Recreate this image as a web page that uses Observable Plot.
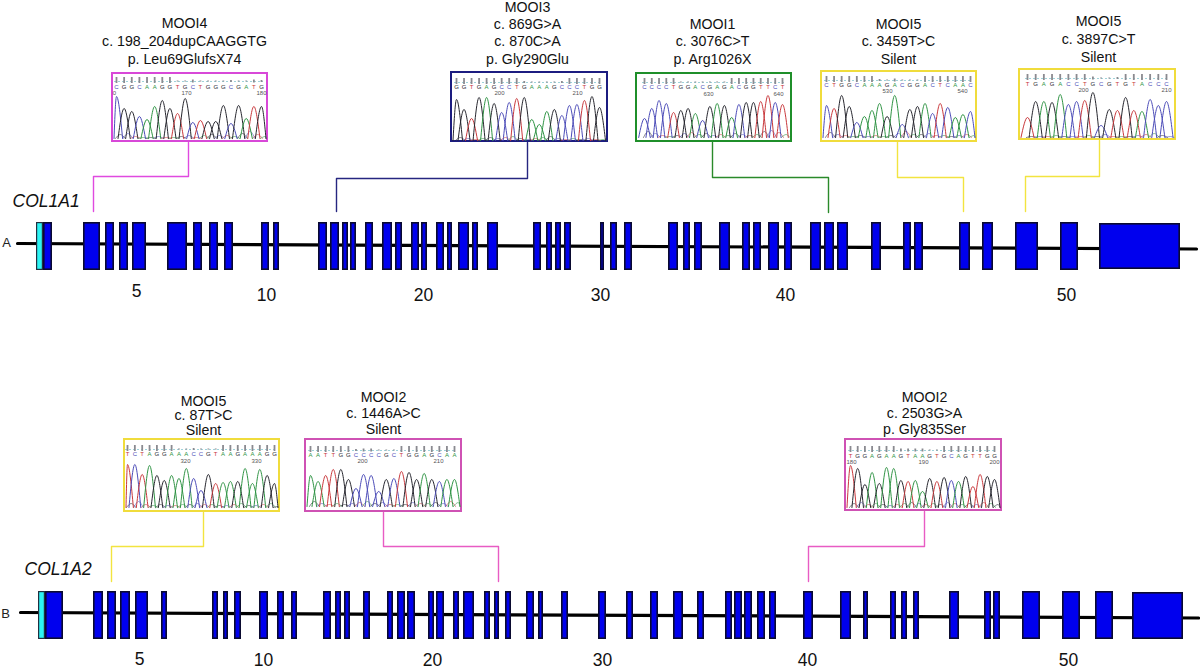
<!DOCTYPE html>
<html>
<head>
<meta charset="utf-8">
<script src="https://cdn.jsdelivr.net/npm/d3@7"></script>
<script src="https://cdn.jsdelivr.net/npm/@observablehq/plot@0.6"></script>
<style>html,body{margin:0;padding:0;background:#fff}svg{display:block}</style>
</head>
<body>
<div id="chart"></div>
<script>
// Exon extents along each gene
const col1a1Exons = [[43,52],[83,100],[105,114],[119,128],[132,146],[167,187],[193,202],[209,218],[224,233],[261,269],[273,279],[318,327],[330,339],[342,348],[350,356],[365,373],[382,392],[395,402],[411,419],[421,427],[436,444],[447,452],[458,469],[472,478],[487,498],[533,541],[546,552],[555,561],[564,571],[600,604],[610,617],[624,632],[668,678],[683,690],[694,702],[719,730],[742,750],[753,761],[768,779],[784,792],[810,821],[824,834],[837,848],[871,881],[903,911],[914,923],[959,970],[982,993],[1015,1038],[1060,1078]];
const col1a2Exons = [[45,63],[93,103],[107,116],[120,130],[135,148],[161,167],[212,218],[223,228],[234,241],[259,268],[277,284],[291,297],[323,331],[335,341],[344,350],[363,370],[387,393],[397,405],[407,415],[428,434],[436,444],[453,459],[463,474],[484,490],[494,499],[505,511],[526,534],[538,543],[561,568],[598,606],[626,633],[650,658],[673,683],[697,704],[725,732],[734,742],[744,752],[757,765],[769,776],[803,813],[840,851],[863,868],[890,896],[901,907],[913,919],[949,959],[984,991],[993,1000],[1022,1040],[1062,1080],[1095,1113]];
const utrStart = [[36,43,222,270],[38,45,591,639]];
const utrEnd = [[1099,1180,223,269],[1132,1183,592,639]];
const geneBands = [[222,270],[591,639]];
const backbones = [[17,243,1196,248.5],[20,612,1198,617.5]];

const geneNames = [["COL1A1",12,201],["COL1A2",24,569]];
const rowLetters = [["A",6,242],["B",5,613]];
const exonNumbers = [["5",136,291],["10",266,295],["20",423,295],["30",600,295],["40",785,295],["50",1066,295],["5",139,659],["10",263,660],["20",432,660],["30",602,660],["40",807,660],["50",1068,660]];

// Mutation captions
const captions = [
  [184,["MOOI4","c. 198_204dupCAAGGTG","p. Leu69GlufsX74"],[23,41,59]],
  [527,["MOOI3","c. 869G>A","c. 870C>A","p. Gly290Glu"],[7,24,41,59]],
  [712,["MOOI1","c. 3076C>T","p. Arg1026X"],[24,41,59]],
  [898,["MOOI5","c. 3459T>C","Silent"],[24,41,59]],
  [1098,["MOOI5","c. 3897C>T","Silent"],[21,39,57]],
  [203,["MOOI5","c. 87T>C","Silent"],[401,415,430]],
  [383,["MOOI2","c. 1446A>C","Silent"],[397,413,429]],
  [924,["MOOI2","c. 2503G>A","p. Gly835Ser"],[397,413,429]]
];

// Leader paths from trace box to exon
const leaders = [
  [[188,142],[188,176],[93,176],[93,211]],
  [[527,142],[527,178],[336,178],[336,211]],
  [[712,142],[712,177],[828,177],[828,212]],
  [[897,141],[897,177],[963,177],[963,211]],
  [[1099,140],[1099,176],[1025,176],[1025,211]],
  [[203,512],[203,546],[111,546],[111,581]],
  [[383,512],[383,546],[498,546],[498,581]],
  [[924,511],[924,546],[808,546],[808,581]]
];
const panelColors = ["#d848d8","#1c1c80","#1f8f2a","#f0dc3c","#f0dc3c","#f0dc3c","#cf52b4","#cf52b4"];
const leaderColors = ["#e04ae0","#262680","#2a8a2a","#f2e440","#f2e440","#f2e440","#e85cc4","#e85cc4"];

// Trace boxes [left, right, top, bottom]
const boxes = [[112,267,73,141],[451,607,72,141],[636,791,73,141],[821,976,71,141],[1019,1175,69,139],[124,279,439,511],[305,461,439,511],[845,1001,439,510]];
// First/last base position, baseline, base-letter row, quality row, number row
const baseSpans = [[116,261],[456,599],[644,782],[826,970],[1027,1166],[127,274],[310,454],[850,994]];
const baselines = [138,140,137,137,137,507,506,507];
const letterRows = [87,87,87,85,84,454,455,456];
const qualityRows = [80,81,81,79,77,448,449,449];
const numberRows = [93,93,93.5,91,90,461,461,462];
const posLabels = [
  [["0",114],["170",186],["180",261]],
  [["200",499],["210",577]],
  [["630",708],["640",778]],
  [["530",887],["540",962]],
  [["200",1083],["210",1166]],
  [["320",185],["330",256]],
  [["200",362],["210",438]],
  [["180",851],["190",923],["200",994]]
];

// Base calls, peak heights, background noise, quality bars for each trace
const sequences = ["CGGCAAGGTGCTGGGCGATG","GGTGAGCCTGAAAGCCCTGG","CCCCTGGACGAGACGGTTCT","CTGGCAAAGACGGACTCAAC","TGAGACCTGCGTGTACCC","TCTAGGAAACCGTAAGAAAGG","AATTGGCCCCGCTGGAGCAA","TGGAGAAGTAAGTGCAGTTGG"];
const peaks1 = [42,30,27,22,19,32,38,30,25,40,16,18,17,17,33,15,33,20,32,32];
const peaks2 = [41,31,22,43,43,37,28,38,42,43,21,16,29,31,25,35,36,40,44,33];
const peaks3 = [19,29,37,34,25,27,29,24,17,31,34,32,20,33,35,35,36,42,35,33];
const peaks4 = [32,29,42,31,15,21,27,34,21,42,13,28,31,34,24,34,30,20,23,26];
const peaks5 = [20,36,36,35,43,33,36,37,45,12,28,27,40,27,26,38,32,36];
const peaks6 = [43,43,33,42,32,27,32,29,39,29,17,33,24,25,26,26,39,24,38,32,24];
const peaks7 = [31,25,31,37,37,27,18,32,31,15,27,28,35,34,27,33,27,25,27,27];
const peaks8 = [42,39,23,35,24,40,39,27,26,27,16,29,26,30,27,26,31,21,33,31,28];
const allPeaks = [peaks1,peaks2,peaks3,peaks4,peaks5,peaks6,peaks7,peaks8];
const noise1 = [4,5,2,1,1,2,1,1,2,3,1,3,4,3,3,2,5,7,4,2];
const noise2 = [3,2,1,2,3,2,3,4,2,1,2,3,4,2,1,2,1,2,1,1];
const noise3 = [6,4,2,1,2,4,5,3,4,2,3,2,4,3,2,3,6,7,5,3];
const noise4 = [5,3,2,1,2,1,2,1,2,4,6,3,3,4,2,2,1,2,3,2];
const noise5 = [1,1,1,2,1,1,1,2,1,3,1,1,1,2,3,4,2,1];
const noise6 = [4,6,3,2,3,2,2,3,3,4,3,3,2,2,3,4,2,2,3,4,1];
const noise7 = [5,3,2,3,2,3,4,5,3,4,2,2,2,4,3,3,4,3,5,4];
const noise8 = [4,5,3,4,3,2,3,4,5,4,3,4,3,5,4,3,4,3,5,4,3];
const allNoise = [noise1,noise2,noise3,noise4,noise5,noise6,noise7,noise8];
const quality1 = [6,6,6,6,6,6,6,6,1,1,3,1,1,1,1,2,1,1,3,2];
const quality2 = [6,6,6,6,6,6,6,6,6,2,1,1,1,1,2,6,6,6,6,6];
const quality3 = [6,6,6,6,6,1,1,1,1,1,1,1,6,6,6,6,6,6,6,6];
const quality4 = [6,6,6,6,6,6,6,2,1,3,1,1,1,6,6,6,6,6,6,6];
const quality5 = [6,6,6,6,6,6,6,6,3,1,1,2,6,6,6,6,6,6];
const quality6 = [6,6,6,6,6,6,6,1,1,2,1,1,1,6,6,6,6,6,6,6,6];
const quality7 = [6,6,6,6,6,6,2,3,3,1,1,1,6,6,6,6,6,6,6,6];
const quality8 = [6,6,6,6,6,6,6,3,3,3,3,1,1,6,6,6,6,6,6,6,6];
const allQuality = [quality1,quality2,quality3,quality4,quality5,quality6,quality7,quality8];
const baseColors = {A:"#2f9444",C:"#4b4bb8",G:"#26262e",T:"#c9383c"};
const baseOrder = ["G","C","T","A"];

// ---- tables built from the arrays ----
const exonRects = [];
[col1a1Exons,col1a2Exons].forEach((list,g)=>list.forEach(([a,b])=>exonRects.push({a,b,t:geneBands[g][0],u:geneBands[g][1]})));
utrEnd.forEach(([a,b,t,u])=>exonRects.push({a,b,t,u}));
const utrRects = utrStart.map(([a,b,t,u])=>({a,b,t,u}));
const backbonePts = backbones.flatMap(([a,b,c,d],i)=>[{x:a,y:b,i},{x:c,y:d,i}]);
const captionRows = captions.flatMap(([x,lines,ys])=>lines.map((t,i)=>({x,t,y:ys[i]})));
const leaderPts = leaders.flatMap((p,i)=>p.map(([x,y])=>({x,y,i,c:leaderColors[i]})));
const panelRects = boxes.map(([a,b,t,u],i)=>({a,b,t,u,c:panelColors[i]}));

const letters=[], qualityBars=[], dashLines=[], tracePts=[], noisePts=[], numberRowsData=[];
sequences.forEach((seq,p)=>{
  const [x0,x1]=baseSpans[p], n=seq.length, step=(x1-x0)/(n-1);
  const [bl,br]=boxes[p], base=baselines[p], w=step*0.8;
  const clamp=x=>Math.max(bl+1.5,Math.min(br-1.5,x));
  dashLines.push({a:x0-2,b:x1+2,y:qualityRows[p]+1});
  [...seq].forEach((ch,i)=>{
    const x=x0+i*step, c=baseColors[ch];
    letters.push({x,y:letterRows[p],ch,c});
    const q=allQuality[p][i];
    qualityBars.push({x,t:qualityRows[p]+1-q/2-(q>3?1:0),u:qualityRows[p]+1+q/2-(q>3?1:0)});
    const id=p+"-"+i;
    tracePts.push({id,c,x:clamp(x-w),y:base},{id,c,x:clamp(x),y:base-allPeaks[p][i]},{id,c,x:clamp(x+w),y:base});
    const nx=x+step/2, nc=baseColors[baseOrder[i%4]], nid="n"+id;
    noisePts.push({id:nid,c:nc,x:clamp(nx-w*0.8),y:base},{id:nid,c:nc,x:clamp(nx),y:base-allNoise[p][i]},{id:nid,c:nc,x:clamp(nx+w*0.8),y:base});
  });
  posLabels[p].forEach(([t,x])=>numberRowsData.push({t,x,y:numberRows[p]}));
});

const font = "'Liberation Sans', Arial, sans-serif";
const chart = Plot.plot({
  width:1200, height:670, margin:0,
  x:{domain:[0,1200],range:[0,1200],axis:null},
  y:{domain:[0,670],range:[0,670],axis:null},
  color:{type:"identity"},
  style:{background:"#fff",fontFamily:font},
  marks:[
    Plot.line(backbonePts,{x:"x",y:"y",z:"i",stroke:"#000",strokeWidth:3.2}),
    Plot.rect(exonRects,{x1:"a",x2:"b",y1:"t",y2:"u",inset:0.8,fill:"#0000ee",stroke:"#0a0a30",strokeWidth:1.6}),
    Plot.rect(utrRects,{x1:"a",x2:"b",y1:"t",y2:"u",inset:0.6,fill:"#2cf4f4",stroke:"#203040",strokeWidth:1.2}),
    Plot.line(leaderPts,{x:"x",y:"y",z:"i",stroke:"c",strokeWidth:1.4}),
    Plot.rect(panelRects,{x1:"a",x2:"b",y1:"t",y2:"u",fill:"#fff",stroke:"c",strokeWidth:2}),
    Plot.ruleY(dashLines,{x1:"a",x2:"b",y:"y",stroke:"#86c8d0",strokeWidth:0.8,strokeDasharray:"2,2"}),
    Plot.ruleX(qualityBars,{x:"x",y1:"t",y2:"u",stroke:"#8a8a90",strokeWidth:1.8}),
    Plot.text(letters,{x:"x",y:"y",text:"ch",fill:"c",fontSize:6,fontFamily:font}),
    Plot.text(numberRowsData,{x:"x",y:"y",text:"t",fill:"#555",fontSize:6,fontFamily:font}),
    Plot.line(noisePts,{x:"x",y:"y",z:"id",stroke:"c",strokeWidth:0.7,strokeOpacity:0.8,curve:"monotone-x"}),
    Plot.line(tracePts,{x:"x",y:"y",z:"id",stroke:"c",strokeWidth:1,curve:"monotone-x"}),
    Plot.text(captionRows,{x:"x",y:"y",text:"t",fill:"#111",fontSize:14.2,fontFamily:font}),
    Plot.text(geneNames,{x:d=>d[1],y:d=>d[2],text:d=>d[0],fill:"#111",fontSize:17.5,fontStyle:"italic",textAnchor:"start",fontFamily:font}),
    Plot.text(rowLetters,{x:d=>d[1],y:d=>d[2],text:d=>d[0],fill:"#222",fontSize:13,fontFamily:font}),
    Plot.text(exonNumbers,{x:d=>d[1],y:d=>d[2],text:d=>d[0],fill:"#111",fontSize:17.5,fontFamily:font})
  ]
});
document.getElementById("chart").append(chart);
</script>
</body>
</html>
